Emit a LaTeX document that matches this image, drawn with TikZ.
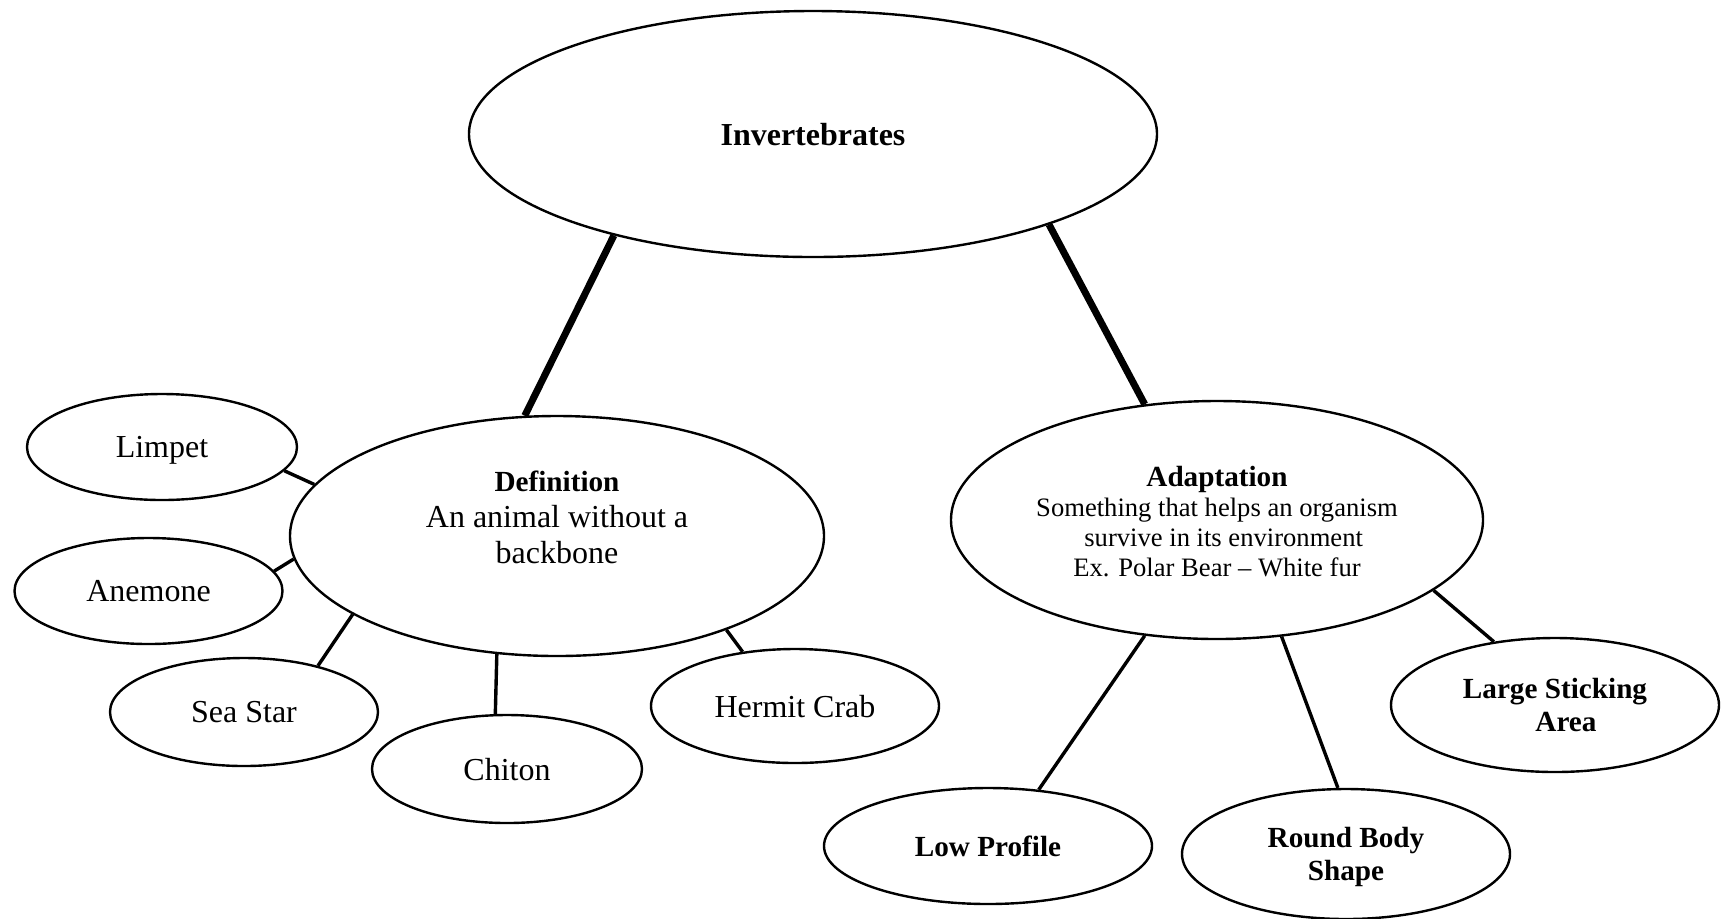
\documentclass[tikz,border=0pt]{standalone}
\usepackage{fontspec}
\setmainfont{Liberation Serif}
\usetikzlibrary{shapes.geometric}

\tikzset{
    bubble/.style={ellipse, draw, line width=1.2pt, inner sep=0pt, align=center,
        text depth=0pt, font=\fontsize{16}{18}\selectfont},
    trunk/.style={line width=3.5pt},
    twig/.style={line width=1.7pt}
}
\newcommand{\headline}[1]{{\fontsize{14.6}{17}\selectfont\textbf{#1}}}

\begin{document}
\begin{tikzpicture}[x=0.5pt, y=-0.5pt]
    \useasboundingbox (0,0) rectangle (1725,918);

    \node[bubble, minimum width=344pt, minimum height=123pt] (inv) at (813,134) {\textbf{Invertebrates}};

    \node[bubble, minimum width=267pt, minimum height=120pt] (def) at (557,536) {};
    \node[align=center, inner sep=0pt, font=\fontsize{16}{18}\selectfont] (deftxt) at (557,517)
        {\headline{Definition}\\An animal without a\\backbone};

    \node[bubble, minimum width=266pt, minimum height=119pt] (adapt) at (1217,520) {};
    \node[align=center, inner sep=0pt, font=\fontsize{13.3}{15}\selectfont] (adapttxt) at (1217,522)
        {\headline{Adaptation}\\Something that helps an organism\\
         \ \ survive in its environment\\Ex. Polar Bear -- White fur};

    % examples
    \node[bubble, minimum width=135pt, minimum height=53pt] (limpet) at (162,447) {Limpet};
    \node[bubble, minimum width=134pt, minimum height=53pt] (anemone) at (148.5,591) {Anemone};
    \node[bubble, minimum width=134pt, minimum height=54pt] (seastar) at (244,712) {Sea Star};
    \node[bubble, minimum width=135pt, minimum height=54pt] (chiton) at (507,769) {Chiton};
    \node[bubble, minimum width=144pt, minimum height=57pt] (crab) at (795,706) {Hermit Crab};

    % adaptations
    \node[bubble, minimum width=164pt, minimum height=58pt, font=\fontsize{14.6}{16.5}\selectfont\bfseries] (low) at (988,846) {Low Profile};
    \node[bubble, minimum width=164pt, minimum height=65pt, font=\fontsize{14.6}{16.5}\selectfont\bfseries] (round) at (1346,854)
        {Round Body\\Shape};
    \node[bubble, minimum width=164pt, minimum height=67pt, font=\fontsize{14.6}{16.5}\selectfont\bfseries] (large) at (1555,705)
        {Large Sticking\\\ \ \ Area};

    \draw[trunk] (inv.207) -- (def.105);
    \draw[trunk] (inv.339) -- (adapt.122);

    \draw[twig] (limpet.349) -- (def.168);
    \draw[twig] (anemone.9) -- (def.185);
    \draw[twig] (seastar.32) -- (def.201);
    \draw[twig] (chiton.102) -- (def.243);
    \draw[twig] (crab.134) -- (def.331);

    \draw[twig] (low.48) -- (adapt.238);
    \draw[twig] (round.97) -- (adapt.299);
    \draw[twig] (large.134) -- (adapt.342);
\end{tikzpicture}
\end{document}
